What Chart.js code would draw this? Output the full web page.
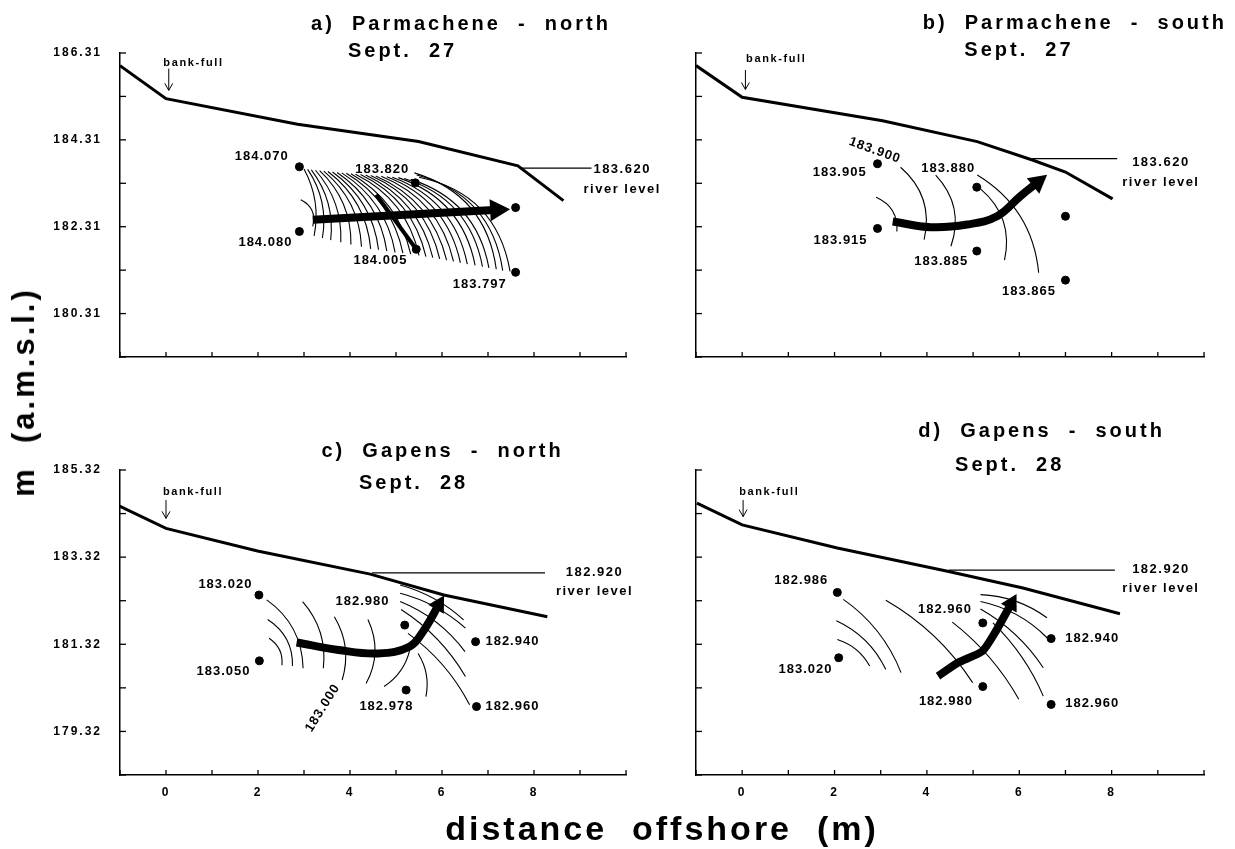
<!DOCTYPE html>
<html>
<head>
<meta charset="utf-8">
<script src="https://cdn.jsdelivr.net/npm/chart.js@4.4.0/dist/chart.umd.min.js"></script>
<style>
  body { margin: 0; background: #fff; width: 1235px; height: 849px; position: relative; overflow: hidden; }
  .panel { position: absolute; }
  .axtitle { position: absolute; font: bold 34px "Liberation Sans", Arial, sans-serif; letter-spacing: 3px; white-space: pre; color: #000; }
  #ytitle { left: 24px; top: 392px; font-size: 31px; transform: translate(-50%, -50%) rotate(-90deg); }
  #xtitle { left: 662px; top: 828px; transform: translate(-50%, -50%); }
</style>
</head>
<body>
<div class="panel" style="left:0;top:0;width:680px;height:400px"><canvas id="pa"></canvas></div>
<div class="panel" style="left:640px;top:0;width:595px;height:400px"><canvas id="pb"></canvas></div>
<div class="panel" style="left:0;top:400px;width:680px;height:449px"><canvas id="pc"></canvas></div>
<div class="panel" style="left:640px;top:400px;width:595px;height:449px"><canvas id="pd"></canvas></div>
<div class="axtitle" id="ytitle">m  (a.m.s.l.)</div>
<div class="axtitle" id="xtitle">distance  offshore  (m)</div>
<script>
// axes
const xTicks = [-1, 0, 1, 2, 3, 4, 5, 6, 7, 8, 9, 10];
const xTickText = ['', '0', '', '2', '', '4', '', '6', '', '8', '', ''];
const yTicksTop = [179.31, 180.31, 181.31, 182.31, 183.31, 184.31, 185.31, 186.31];
const yTickTextTop = ['', '180.31', '', '182.31', '', '184.31', '', '186.31'];
const yTicksBottom = [178.32, 179.32, 180.32, 181.32, 182.32, 183.32, 184.32, 185.32];
const yTickTextBottom = ['', '179.32', '', '181.32', '', '183.32', '', '185.32'];

// a) Parmachene - north
const bankXA = [-1.0, 0, 2.86, 5.49, 7.65, 8.64];
const bankYA = [186.02, 185.26, 184.67, 184.27, 183.71, 182.91];
const riverXA = [7.7, 9.25];
const riverYA = [183.66, 183.66];
const wellXA = [2.90, 2.90, 5.42, 5.44, 7.60, 7.60];
const wellYA = [183.69, 182.20, 183.32, 181.79, 182.75, 181.26];
const labelsA = [['184.070', 2.07, 183.92], ['184.080', 2.15, 181.94], ['183.820', 4.69, 183.64],
  ['184.005', 4.65, 181.54], ['183.797', 6.81, 180.97]];
const riverTextA = [['183.620', 9.9, 183.64], ['river level', 9.9, 183.16]];
const flowXA = [3.19, 7.22];
const flowYA = [182.47, 182.70];
const sideXA = [4.57, 5.44];
const sideYA = [183.05, 181.79];
const contoursA = [
  [2.93, 182.93, 3.19, 182.32, 0.4],
  [3.00, 183.64, 3.22, 182.10, 0.18], [3.08, 183.63, 3.40, 182.05, 0.2], [3.16, 183.62, 3.58, 182.00, 0.2],
  [3.25, 183.61, 3.80, 181.95, 0.2], [3.34, 183.60, 4.02, 181.90, 0.22], [3.43, 183.59, 4.25, 181.85, 0.22],
  [3.52, 183.58, 4.45, 181.80, 0.22], [3.62, 183.57, 4.62, 181.78, 0.22], [3.72, 183.56, 4.80, 181.75, 0.22],
  [3.82, 183.55, 4.98, 181.72, 0.22], [3.92, 183.54, 5.15, 181.70, 0.22], [4.02, 183.53, 5.32, 181.68, 0.22],
  [4.12, 183.52, 5.50, 181.65, 0.24], [4.23, 183.51, 5.65, 181.62, 0.24], [4.34, 183.50, 5.80, 181.60, 0.24],
  [4.45, 183.49, 5.95, 181.57, 0.25], [4.56, 183.48, 6.10, 181.54, 0.25], [4.68, 183.47, 6.25, 181.51, 0.26],
  [4.80, 183.46, 6.40, 181.48, 0.27], [4.92, 183.45, 6.55, 181.45, 0.28], [5.05, 183.44, 6.72, 181.42, 0.29],
  [5.18, 183.42, 6.88, 181.39, 0.3], [5.32, 183.40, 7.02, 181.36, 0.3], [5.40, 183.55, 7.18, 181.33, 0.32],
  [5.45, 183.50, 7.32, 181.30, 0.33], [5.50, 183.45, 7.48, 181.28, 0.34]
];
const bankFullA = [0.58, 186.08, 0.06, 185.95, 185.45];
const titleA = [['a)  Parmachene  -  north', 6.38, 186.97], ['Sept.  27', 5.11, 186.35]];

// b) Parmachene - south
const bankXB = [-1.0, 0, 3.04, 5.09, 6.30, 7.0, 8.02];
const bankYB = [186.02, 185.29, 184.75, 184.27, 183.84, 183.57, 182.95];
const riverXB = [6.28, 8.12];
const riverYB = [183.88, 183.88];
const wellXB = [2.93, 2.93, 5.08, 5.08, 7.0, 7.0];
const wellYB = [183.76, 182.27, 183.22, 181.75, 182.55, 181.08];
const labelsB = [['183.905', 2.1, 183.55], ['183.915', 2.12, 182.0], ['183.880', 4.45, 183.65],
  ['183.885', 4.3, 181.5], ['183.865', 6.2, 180.83], ['183.900', 2.86, 184.07, 20]];
const riverTextB = [['183.620', 9.05, 183.80], ['river level', 9.05, 183.34]];
const flowXB = [3.26, 4.08, 4.87, 5.52, 6.02, 6.42];
const flowYB = [182.43, 182.30, 182.36, 182.55, 183.01, 183.35];
const contoursB = [
  [2.90, 182.99, 3.35, 182.20, 0.35], [3.43, 183.68, 3.94, 182.01, 0.3], [4.19, 183.50, 4.52, 181.86, 0.3],
  [5.16, 183.18, 5.68, 181.54, 0.3], [5.09, 183.50, 6.42, 181.25, 0.25]
];
const bankFullB = [0.72, 186.17, 0.07, 185.92, 185.47];
const titleB = [['b)  Parmachene  -  south', 7.17, 186.98], ['Sept.  27', 5.96, 186.36]];

// c) Gapens - north
const bankXC = [-1.01, 0, 1.99, 4.44, 6.04, 8.29];
const bankYC = [184.49, 183.98, 183.46, 182.93, 182.45, 181.95];
const riverXC = [4.48, 8.24];
const riverYC = [182.96, 182.96];
const wellXC = [2.02, 2.03, 5.19, 5.22, 6.73, 6.75];
const wellYC = [182.45, 180.94, 181.76, 180.27, 181.38, 179.89];
const labelsC = [['183.020', 1.28, 182.70], ['183.050', 1.24, 180.69], ['182.980', 4.26, 182.30],
  ['182.978', 4.78, 179.90], ['182.940', 7.52, 181.39], ['182.960', 7.52, 179.90], ['183.000', 3.40, 179.85, -58]];
const riverTextC = [['182.920', 9.3, 182.98], ['river level', 9.3, 182.54]];
const flowXC = [2.84, 3.75, 4.61, 5.30, 5.61, 5.94];
const flowYC = [181.36, 181.19, 181.11, 181.27, 181.65, 182.25];
const contoursC = [
  [2.24, 181.46, 2.52, 180.84, 0.3], [2.21, 181.89, 2.75, 180.82, 0.28], [2.19, 182.34, 2.98, 180.77, 0.25],
  [2.97, 182.30, 3.42, 180.77, 0.22], [3.66, 181.95, 3.83, 180.50, 0.22], [4.39, 181.89, 4.35, 180.42, 0.25],
  [5.09, 182.68, 6.47, 181.88, 0.12], [5.09, 182.49, 6.51, 181.69, 0.12], [5.09, 182.30, 6.50, 181.15, 0.14],
  [5.11, 182.12, 6.51, 180.58, 0.12], [5.26, 181.57, 6.60, 179.93, 0.12], [5.48, 181.11, 5.65, 180.12, 0.2],
  [4.74, 180.35, 5.30, 181.19, -0.2]
];
const bankFullC = [0.57, 184.82, 0.0, 184.63, 184.21];
const titleC = [['c)  Gapens  -  north', 5.98, 185.74], ['Sept.  28', 5.35, 185.0]];

// d) Gapens - south
const bankXD = [-0.98, 0, 2.06, 4.42, 6.08, 8.18];
const bankYD = [184.56, 184.06, 183.53, 183.0, 182.61, 182.02];
const riverXD = [4.47, 8.07];
const riverYD = [183.02, 183.02];
const wellXD = [2.06, 2.09, 5.21, 5.21, 6.69, 6.69];
const wellYD = [182.51, 181.01, 181.81, 180.35, 181.45, 179.94];
const labelsD = [['182.986', 1.27, 182.79], ['183.020', 1.36, 180.74], ['182.960', 4.38, 182.11],
  ['182.980', 4.40, 180.02], ['182.940', 7.57, 181.45], ['182.960', 7.57, 179.96]];
const riverTextD = [['182.920', 9.05, 183.03], ['river level', 9.05, 182.60]];
const flowXD = [4.24, 4.68, 5.20, 5.47, 5.84];
const flowYD = [180.59, 180.90, 181.16, 181.58, 182.28];
const contoursD = [
  [2.06, 181.43, 2.76, 180.82, 0.2], [2.04, 181.86, 3.11, 180.74, 0.18], [2.19, 182.35, 3.44, 180.67, 0.15],
  [3.11, 182.33, 4.99, 180.44, 0.12], [4.55, 181.83, 5.99, 180.06, 0.1], [5.16, 182.46, 6.60, 181.93, 0.15],
  [5.16, 182.30, 6.60, 181.47, 0.15], [5.16, 182.13, 6.52, 180.78, 0.12], [5.43, 181.81, 6.52, 180.13, 0.1]
];
const bankFullD = [0.57, 184.82, 0.02, 184.63, 184.25];
const titleD = [['d)  Gapens  -  south', 6.45, 186.20], ['Sept.  28', 5.76, 185.43]];

const FONT = '"Liberation Sans", Arial, sans-serif';
const pts = (xs, ys) => xs.map((x, i) => ({ x: x, y: ys[i] }));

function drawText(c, s, x, y, font, ls, rot) {
  c.save();
  c.font = font;
  if ('letterSpacing' in c) c.letterSpacing = ls + 'px';
  c.textAlign = 'center';
  c.textBaseline = 'middle';
  c.fillStyle = '#000';
  c.translate(x, y);
  if (rot) c.rotate(rot * Math.PI / 180);
  c.fillText(s, ls / 2, 0);
  c.restore();
}

function makePanel(id, p) {
  const overlay = {
    id: 'overlay',
    beforeDraw(chart) {
      // tick labels in the original are widely spaced
      if ('letterSpacing' in chart.ctx) chart.ctx.letterSpacing = '2px';
    },
    beforeDatasetsDraw(chart) {
      const c = chart.ctx, X = v => chart.scales.x.getPixelForValue(v), Y = v => chart.scales.y.getPixelForValue(v);
      c.save();
      c.strokeStyle = '#000';
      c.lineWidth = 1.1;
      p.contours.forEach(k => {
        const x0 = X(k[0]), y0 = Y(k[1]), x1 = X(k[2]), y1 = Y(k[3]);
        const dx = x1 - x0, dy = y1 - y0;
        const cx = (x0 + x1) / 2 + dy * k[4], cy = (y0 + y1) / 2 - dx * k[4];
        c.beginPath();
        c.moveTo(x0, y0);
        c.quadraticCurveTo(cx, cy, x1, y1);
        c.stroke();
      });
      c.restore();
    },
    afterDatasetsDraw(chart) {
      const c = chart.ctx, xs = chart.scales.x, ys = chart.scales.y;
      const X = v => xs.getPixelForValue(v), Y = v => ys.getPixelForValue(v);
      c.save();
      // inner tick marks
      c.strokeStyle = '#000';
      c.lineWidth = 1.3;
      xs.ticks.forEach(t => {
        const px = X(t.value);
        c.beginPath(); c.moveTo(px, ys.bottom); c.lineTo(px, ys.bottom - 5); c.stroke();
      });
      ys.ticks.forEach(t => {
        const py = Y(t.value);
        c.beginPath(); c.moveTo(xs.left, py); c.lineTo(xs.left + 6, py); c.stroke();
      });
      // flow arrow head
      const n = p.flowX.length;
      const ex = X(p.flowX[n - 1]), ey = Y(p.flowY[n - 1]);
      const px = X(p.flowX[n - 2]), py = Y(p.flowY[n - 2]);
      let ux = ex - px, uy = ey - py;
      const len = Math.hypot(ux, uy);
      ux /= len; uy /= len;
      const L = p.head[0], W = p.head[1];
      const tx = ex + ux * L * 0.6, ty = ey + uy * L * 0.6;
      const bx = ex - ux * L * 0.4, by = ey - uy * L * 0.4;
      c.fillStyle = '#000';
      c.beginPath();
      c.moveTo(tx, ty);
      c.lineTo(bx - uy * W, by + ux * W);
      c.lineTo(bx + uy * W, by - ux * W);
      c.closePath();
      c.fill();
      // bank-full marker
      const bf = p.bankFull;
      drawText(c, 'bank-full', X(bf[0]), Y(bf[1]), 'bold 11px ' + FONT, 1.6);
      const ax = X(bf[2]), a0 = Y(bf[3]), a1 = Y(bf[4]);
      c.lineWidth = 1;
      c.beginPath(); c.moveTo(ax, a0); c.lineTo(ax, a1); c.stroke();
      c.beginPath(); c.moveTo(ax - 4, a1 - 7); c.lineTo(ax, a1); c.lineTo(ax + 4, a1 - 7); c.stroke();
      // labels
      p.labels.forEach(l => drawText(c, l[0], X(l[1]), Y(l[2]), 'bold 13px ' + FONT, 1, l[3] || 0));
      p.riverText.forEach(l => drawText(c, l[0], X(l[1]), Y(l[2]), 'bold 13px ' + FONT, 1.5));
      // titles
      p.titles.forEach(t => drawText(c, t[0], X(t[1]), Y(t[2]), 'bold 20px ' + FONT, 3));
      c.restore();
    }
  };

  const tickFont = { family: FONT, size: 12, weight: 'bold' };
  new Chart(document.getElementById(id), {
    type: 'scatter',
    data: {
      datasets: [
        { data: pts(p.bankX, p.bankY), showLine: true, borderColor: '#000', borderWidth: 3, pointRadius: 0, tension: 0 },
        { data: pts(p.riverX, p.riverY), showLine: true, borderColor: '#000', borderWidth: 1.2, pointRadius: 0 },
        { data: pts(p.flowX, p.flowY), showLine: true, borderColor: '#000', borderWidth: 8, pointRadius: 0,
          tension: p.tension, borderCapStyle: 'butt' },
        { data: p.sideX ? pts(p.sideX, p.sideY) : [], showLine: true, borderColor: '#000', borderWidth: 4, pointRadius: 0 },
        { data: pts(p.wellX, p.wellY), showLine: false, pointRadius: 4, pointBackgroundColor: '#000', pointBorderColor: '#000' }
      ]
    },
    options: {
      responsive: true,
      maintainAspectRatio: false,
      animation: false,
      layout: { padding: p.pad },
      plugins: { legend: { display: false }, tooltip: { enabled: false } },
      scales: {
        x: {
          type: 'linear', min: -1, max: 10,
          afterBuildTicks: s => { s.ticks = xTicks.map(v => ({ value: v })); },
          ticks: { callback: (v, i) => p.xLabels ? xTickText[i] : '', font: tickFont, color: '#000',
            padding: 10, autoSkip: false, maxRotation: 0 },
          grid: { display: false, drawTicks: false },
          border: { display: true, color: '#000', width: 1.5 },
          afterFit: s => { s.height = p.xh; }
        },
        y: {
          type: 'linear', min: p.yTicks[0], max: p.yTicks[p.yTicks.length - 1],
          afterBuildTicks: s => { s.ticks = p.yTicks.map(v => ({ value: v })); },
          ticks: { callback: (v, i) => p.yLabels ? p.yText[i] : '', font: tickFont, color: '#000',
            padding: 18, autoSkip: false },
          grid: { display: false, drawTicks: false },
          border: { display: true, color: '#000', width: 1.5 },
          afterFit: s => { s.width = p.yw; }
        }
      }
    },
    plugins: [overlay]
  });
}

makePanel('pa', { bankX: bankXA, bankY: bankYA, riverX: riverXA, riverY: riverYA, wellX: wellXA, wellY: wellYA,
  labels: labelsA, riverText: riverTextA, flowX: flowXA, flowY: flowYA, sideX: sideXA, sideY: sideYA,
  contours: contoursA, bankFull: bankFullA, titles: titleA, tension: 0, head: [20, 11],
  yTicks: yTicksTop, yText: yTickTextTop, xLabels: false, yLabels: true,
  pad: { top: 53, right: 54, left: 0, bottom: 0 }, xh: 43, yw: 120 });
makePanel('pb', { bankX: bankXB, bankY: bankYB, riverX: riverXB, riverY: riverYB, wellX: wellXB, wellY: wellYB,
  labels: labelsB, riverText: riverTextB, flowX: flowXB, flowY: flowYB, contours: contoursB, bankFull: bankFullB,
  titles: titleB, tension: 0.4, head: [18, 10], yTicks: yTicksTop, yText: yTickTextTop, xLabels: false, yLabels: false,
  pad: { top: 53, right: 31, left: 0, bottom: 0 }, xh: 43, yw: 56 });
makePanel('pc', { bankX: bankXC, bankY: bankYC, riverX: riverXC, riverY: riverYC, wellX: wellXC, wellY: wellYC,
  labels: labelsC, riverText: riverTextC, flowX: flowXC, flowY: flowYC, contours: contoursC, bankFull: bankFullC,
  titles: titleC, tension: 0.4, head: [16, 9], yTicks: yTicksBottom, yText: yTickTextBottom, xLabels: true, yLabels: true,
  pad: { top: 70, right: 54, left: 0, bottom: 0 }, xh: 74, yw: 120 });
makePanel('pd', { bankX: bankXD, bankY: bankYD, riverX: riverXD, riverY: riverYD, wellX: wellXD, wellY: wellYD,
  labels: labelsD, riverText: riverTextD, flowX: flowXD, flowY: flowYD, contours: contoursD, bankFull: bankFullD,
  titles: titleD, tension: 0.2, head: [16, 9], yTicks: yTicksBottom, yText: yTickTextBottom, xLabels: true, yLabels: false,
  pad: { top: 70, right: 31, left: 0, bottom: 0 }, xh: 74, yw: 56 });
</script>
</body>
</html>
